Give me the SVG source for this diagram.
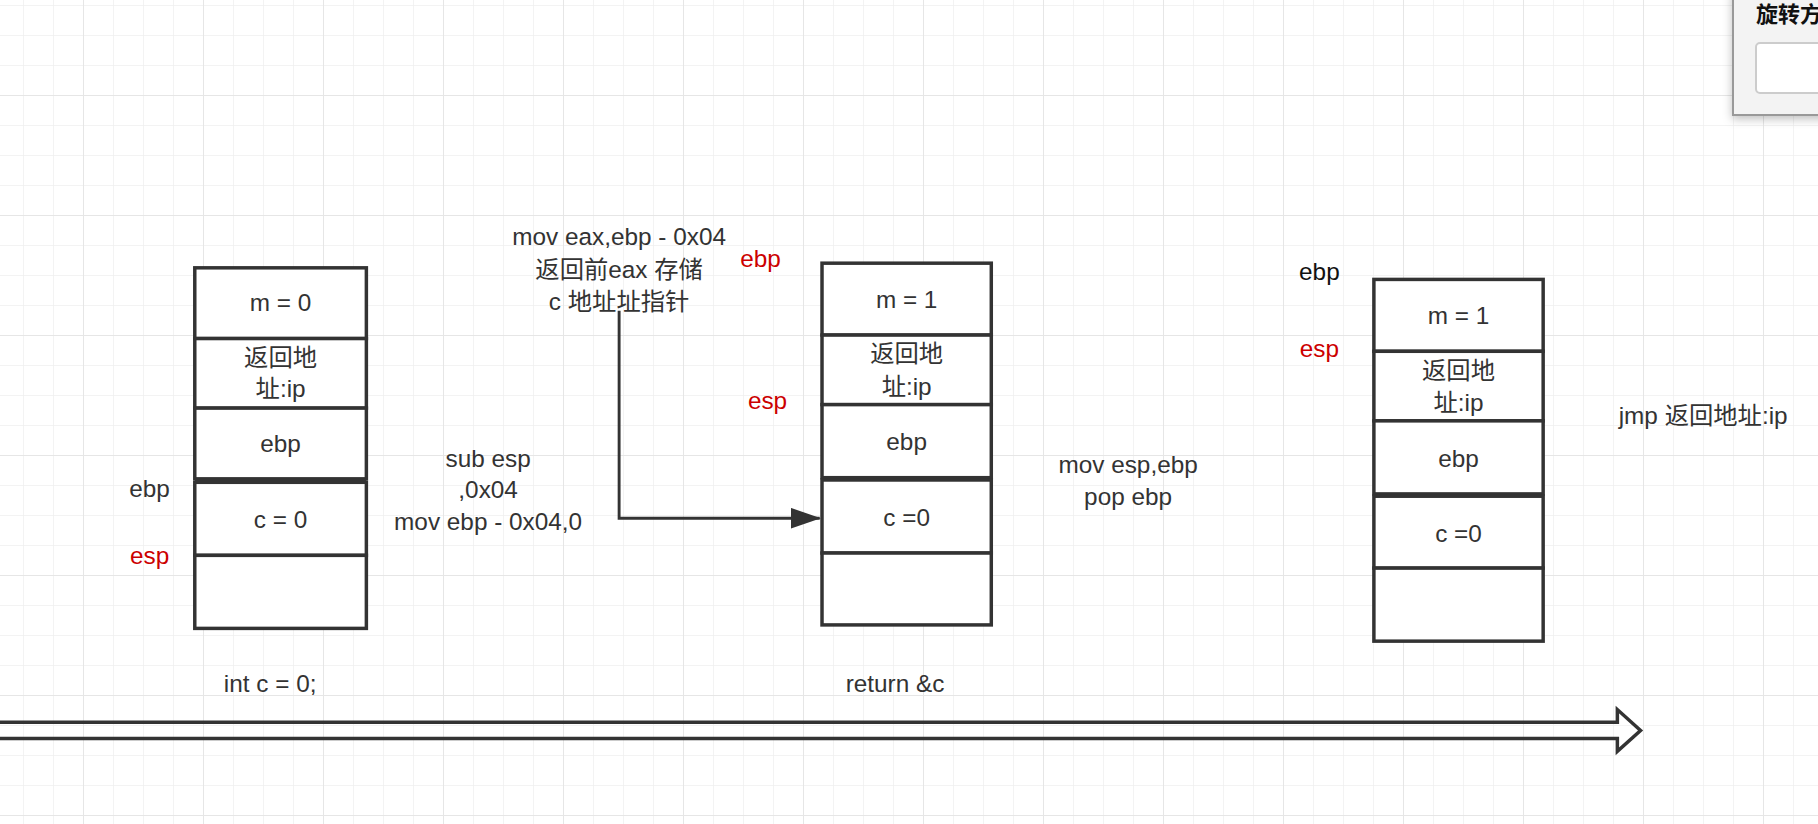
<svg xmlns="http://www.w3.org/2000/svg" width="1818" height="824" viewBox="0 0 1818 824">
<defs>
<pattern id="mi" width="30" height="30" patternUnits="userSpaceOnUse" x="23" y="5"><path d="M0 0H30M0 0V30" fill="none" stroke="#f0f0f0" stroke-width="1.5"/></pattern>
<pattern id="ma" width="120" height="120" patternUnits="userSpaceOnUse" x="83" y="95"><path d="M0 0H120M0 0V120" fill="none" stroke="#e6e6e6" stroke-width="2"/></pattern>
<marker id="ah" markerWidth="26" markerHeight="18" refX="25" refY="9" orient="auto" markerUnits="userSpaceOnUse" viewBox="0 0 26 18"><path d="M0 0L26 9L0 18Z" fill="#333"/></marker>
<filter id="sh" x="-20%" y="-20%" width="140%" height="160%"><feDropShadow dx="0" dy="3" stdDeviation="5" flood-color="#000" flood-opacity="0.25"/></filter>
</defs>
<style>
text{font-family:"Liberation Sans","Noto Sans CJK SC",sans-serif;font-size:21px;fill:#333;text-anchor:middle;dominant-baseline:middle}
.r{fill:#cc0000}
.b{fill:#111}
.box{fill:#fff;stroke:#333;stroke-width:3}
</style>
<rect width="1818" height="824" fill="#fff"/>
<rect width="1818" height="824" fill="url(#mi)"/>
<rect width="1818" height="824" fill="url(#ma)"/>
<g transform="scale(1.1594)">
<g id="stack1">
<rect class="box" x="168" y="231" width="148" height="61"/>
<rect class="box" x="168" y="292" width="148" height="60"/>
<rect class="box" x="168" y="352" width="148" height="61"/>
<rect class="box" x="168" y="416" width="148" height="63"/>
<rect class="box" x="168" y="479" width="148" height="63"/>
<path d="M168 414.5H316" stroke="#333" stroke-width="4"/>
<text x="242" y="263">m = 0</text>
<text x="242" y="310">返回地</text><text x="242" y="337">址:ip</text>
<text x="242" y="384">ebp</text>
<text x="242" y="450">c = 0</text>
</g>
<g id="stack2">
<rect class="box" x="709" y="227" width="146" height="62"/>
<rect class="box" x="709" y="289" width="146" height="60"/>
<rect class="box" x="709" y="349" width="146" height="63"/>
<rect class="box" x="709" y="414" width="146" height="63"/>
<rect class="box" x="709" y="477" width="146" height="62"/>
<text x="782" y="260">m = 1</text>
<text x="782" y="307">返回地</text><text x="782" y="335">址:ip</text>
<text x="782" y="383">ebp</text>
<text x="782" y="448">c =0</text>
</g>
<g id="stack3">
<rect class="box" x="1185" y="241" width="146" height="62"/>
<rect class="box" x="1185" y="303" width="146" height="60"/>
<rect class="box" x="1185" y="363" width="146" height="63"/>
<rect class="box" x="1185" y="428" width="146" height="62"/>
<rect class="box" x="1185" y="490" width="146" height="63"/>
<text x="1258" y="274">m = 1</text>
<text x="1258" y="321">返回地</text><text x="1258" y="349">址:ip</text>
<text x="1258" y="397">ebp</text>
<text x="1258" y="462">c =0</text>
</g>
<g id="labels">
<text x="129" y="423">ebp</text>
<text class="r" x="129" y="481">esp</text>
<text x="421" y="397">sub esp</text>
<text x="421" y="424">,0x04</text>
<text x="421" y="452">mov ebp - 0x04,0</text>
<text x="534" y="206">mov eax,ebp - 0x04</text>
<text x="534" y="234">返回前eax 存储</text>
<text x="534" y="262">c 地址址指针</text>
<text class="r" x="656" y="225">ebp</text>
<text class="r" x="662" y="347">esp</text>
<text x="973" y="402">mov esp,ebp</text>
<text x="973" y="430">pop ebp</text>
<text class="b" x="1138" y="236">ebp</text>
<text class="r" x="1138" y="302">esp</text>
<text x="1469" y="360">jmp 返回地址:ip</text>
<text x="233" y="591">int c = 0;</text>
<text x="772" y="591">return &amp;c</text>
</g>
<g id="connectors">
<path d="M534 268V447H707" fill="none" stroke="#333" stroke-width="2.5" marker-end="url(#ah)"/>
<path d="M-2 623H1395V612L1415 630L1395 648V637H-2" fill="none" stroke="#333" stroke-width="3" stroke-linejoin="miter"/>
</g>
</g>
<g id="panel">
<rect x="1733" y="-10" width="100" height="125" fill="#f3f3f3" stroke="#999" stroke-width="2" filter="url(#sh)"/>
<text x="1756" y="16" class="b" style="text-anchor:start;font-weight:bold;font-size:22px">旋转方</text>
<rect x="1756" y="43" width="70" height="50" rx="4" fill="#fff" stroke="#ccc" stroke-width="2"/>
</g>
</svg>
